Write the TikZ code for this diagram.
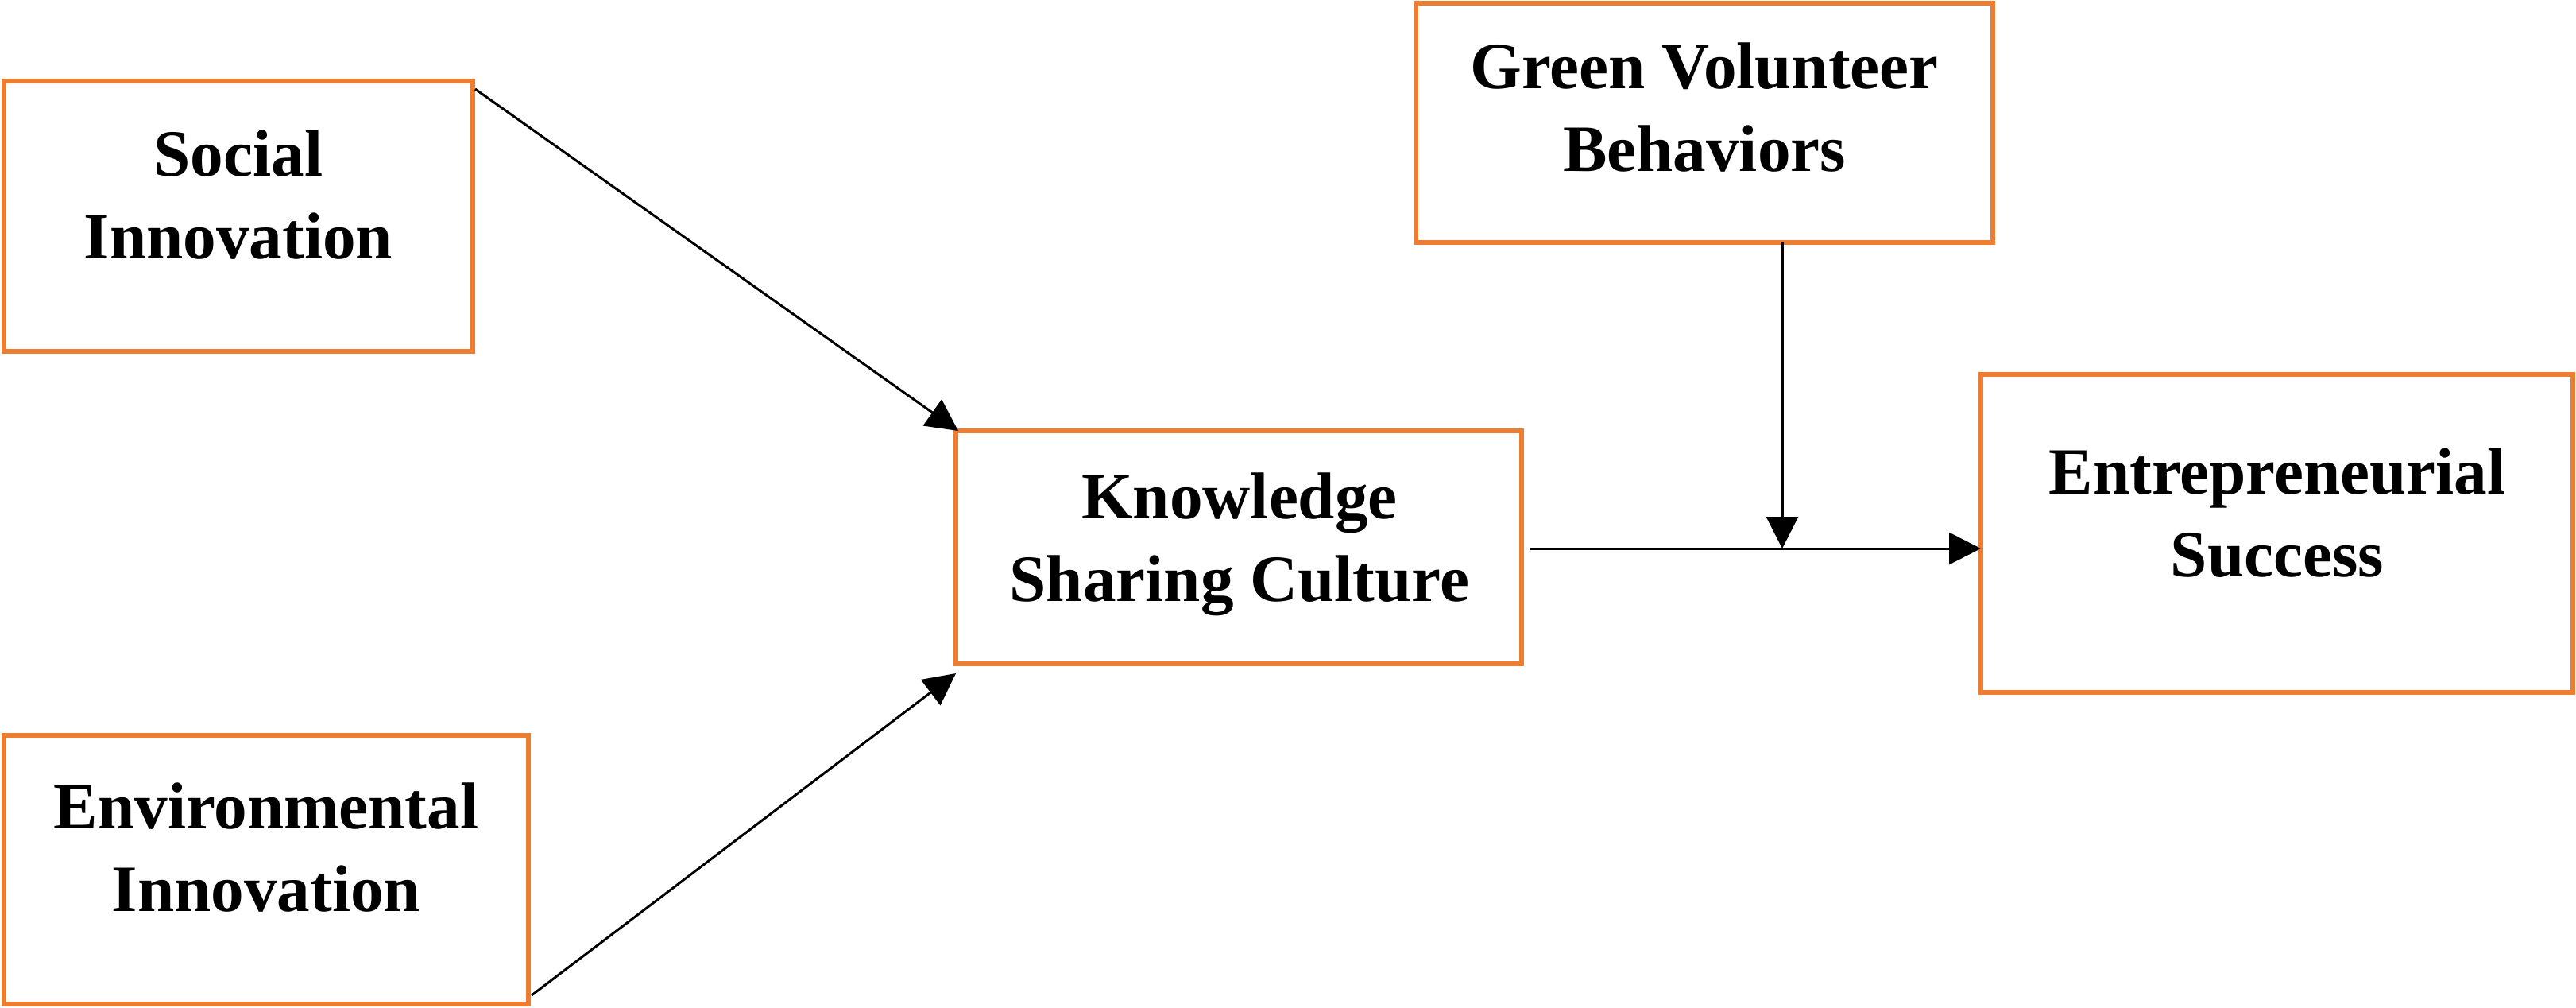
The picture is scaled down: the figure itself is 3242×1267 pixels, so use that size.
\documentclass[tikz,border=0pt]{standalone}
\usepackage{fontspec}
\setmainfont{Liberation Serif}
\usetikzlibrary{arrows.meta,calc}
\definecolor{boxorange}{HTML}{ED7D31}
\begin{document}
\begin{tikzpicture}[x=0.25pt,y=-0.25pt,
  box/.style={draw=boxorange,line width=1.5pt,fill=none,outer sep=0pt,inner sep=0pt,rectangle},
  lbl/.style={font=\bfseries\fontsize{20.8pt}{26pt}\selectfont,align=center,inner sep=0pt,text depth=0pt},
  arr/.style={draw=black,line width=0.75pt,-{Triangle[length=10pt,width=10pt]}},
  conn/.style={draw=black,line width=0.75pt}]
\useasboundingbox (0,0) rectangle (3242,1267);
\fill[white] (0,0) rectangle (3242,1267);
% boxes
\node[box,minimum width=147.5pt,minimum height=85pt] (si) at (300,272) {};
\node[box,minimum width=165pt,minimum height=84.5pt] (ei) at (335,1094) {};
\node[box,minimum width=178pt,minimum height=73.25pt] (ksc) at (1559,688.5) {};
\node[box,minimum width=181.5pt,minimum height=75.25pt] (gvb) at (2145,154.5) {};
\node[box,minimum width=186.25pt,minimum height=100pt] (es) at (2865.5,671) {};
% labels
\node[lbl] (siT) at (300,245) {Social\\Innovation};
\node[lbl] (eiT) at (335,1066) {Environmental\\Innovation};
\node[lbl] (kscT) at (1560,676) {Knowledge\\Sharing Culture};
\node[lbl] (gvbT) at (2145,135) {Green Volunteer\\Behaviors};
\node[lbl] (esT) at (2866,645) {Entrepreneurial\\Success};
% connectors
\coordinate (ks) at ($(ksc.east)+(11,1.5)$);
\coordinate (j) at (2243,690);
\draw[arr] ($(si.north east)+(3,10)$) -- ($(ksc.north west)+(3,0)$);
\draw[arr] ($(ei.south east)+(4,-11)$) -- ($(ksc.south west)+(0,12)$);
\draw[arr] (ks) -- (ks -| es.west);
\draw[arr] (gvb.south -| j) -- (j);
\end{tikzpicture}
\end{document}
